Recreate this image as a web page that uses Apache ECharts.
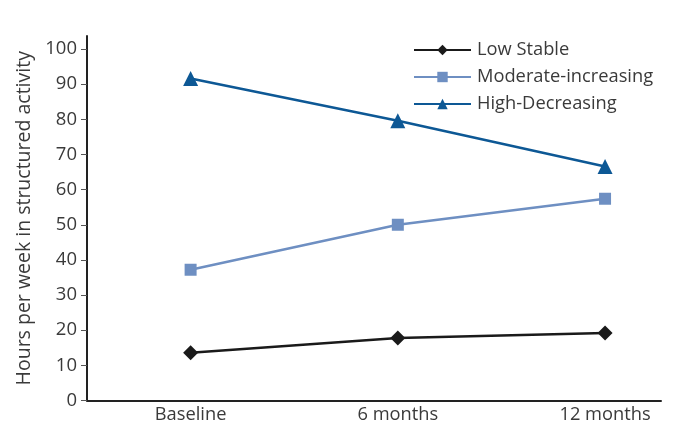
<!DOCTYPE html>
<html>
<head>
<meta charset="utf-8">
<script src="https://cdn.jsdelivr.net/npm/echarts@6/dist/echarts.min.js"></script>
<style>html,body{margin:0;padding:0;background:#fff;}#c{width:674px;height:442px;}</style>
</head>
<body>
<div id="c"></div>
<script>
const categories = ['Baseline', '6 months', '12 months'];
const lowStable = [13.6, 17.8, 19.2];
const moderateIncreasing = [37.2, 50.0, 57.4];
const highDecreasing = [91.6, 79.6, 66.6];
const seriesNames = ['Low Stable', 'Moderate-increasing', 'High-Decreasing'];
const yTicks = [0, 10, 20, 30, 40, 50, 60, 70, 80, 90, 100];

const FONT = '"Open Sans", "Noto Sans", sans-serif';
const toPairs = arr => arr.map((v, i) => [i, v]);

const chart = echarts.init(document.getElementById('c'));
chart.setOption({
  animation: false,
  backgroundColor: '#fff',
  textStyle: { fontFamily: FONT },
  grid: { left: 87, right: 13, top: 36, bottom: 41.5 },
  legend: {
    orient: 'vertical',
    left: 408,
    top: 36,
    itemWidth: 57,
    itemHeight: 13,
    itemGap: 9,
    textStyle: { fontSize: 18.3, color: '#3a3a3a', fontFamily: FONT, padding: [0, 0, 0, 1] },
    data: seriesNames
  },
  xAxis: {
    type: 'value',
    min: -0.5,
    max: 2.27,
    interval: 0.5,
    splitLine: { show: false },
    axisTick: { show: false },
    axisLine: { onZero: false, lineStyle: { color: '#222', width: 2 } },
    axisLabel: {
      fontSize: 18.3,
      color: '#3a3a3a',
      margin: 5,
      fontFamily: FONT,
      showMaxLabel: false,
      formatter: v => (Number.isInteger(v) && v >= 0 && v < categories.length) ? categories[v] : ''
    }
  },
  yAxis: {
    type: 'value',
    min: 0,
    max: 103.7,
    name: 'Hours per week in structured activity',
    nameLocation: 'middle',
    nameGap: 50,
    nameTextStyle: { fontSize: 19.5, color: '#3a3a3a', fontFamily: FONT },
    splitLine: { show: false },
    axisLine: { show: true, onZero: false, lineStyle: { color: '#222', width: 2 } },
    axisTick: { show: true, length: 6, customValues: yTicks, lineStyle: { color: '#555', width: 1 } },
    axisLabel: { fontSize: 18.5, color: '#3a3a3a', margin: 10, fontFamily: FONT, customValues: yTicks }
  },
  series: [
    {
      name: seriesNames[0], type: 'line', data: toPairs(lowStable),
      symbol: 'diamond', symbolSize: 15,
      lineStyle: { color: '#1a1a1a', width: 2.5 },
      itemStyle: { color: '#1a1a1a' }
    },
    {
      name: seriesNames[1], type: 'line', data: toPairs(moderateIncreasing),
      symbol: 'rect', symbolSize: 12,
      lineStyle: { color: '#6e8fc2', width: 2.5 },
      itemStyle: { color: '#6e8fc2' }
    },
    {
      name: seriesNames[2], type: 'line', data: toPairs(highDecreasing),
      symbol: 'triangle', symbolSize: 15,
      lineStyle: { color: '#0d5895', width: 2.5 },
      itemStyle: { color: '#0d5895' }
    }
  ]
});
</script>
</body>
</html>
